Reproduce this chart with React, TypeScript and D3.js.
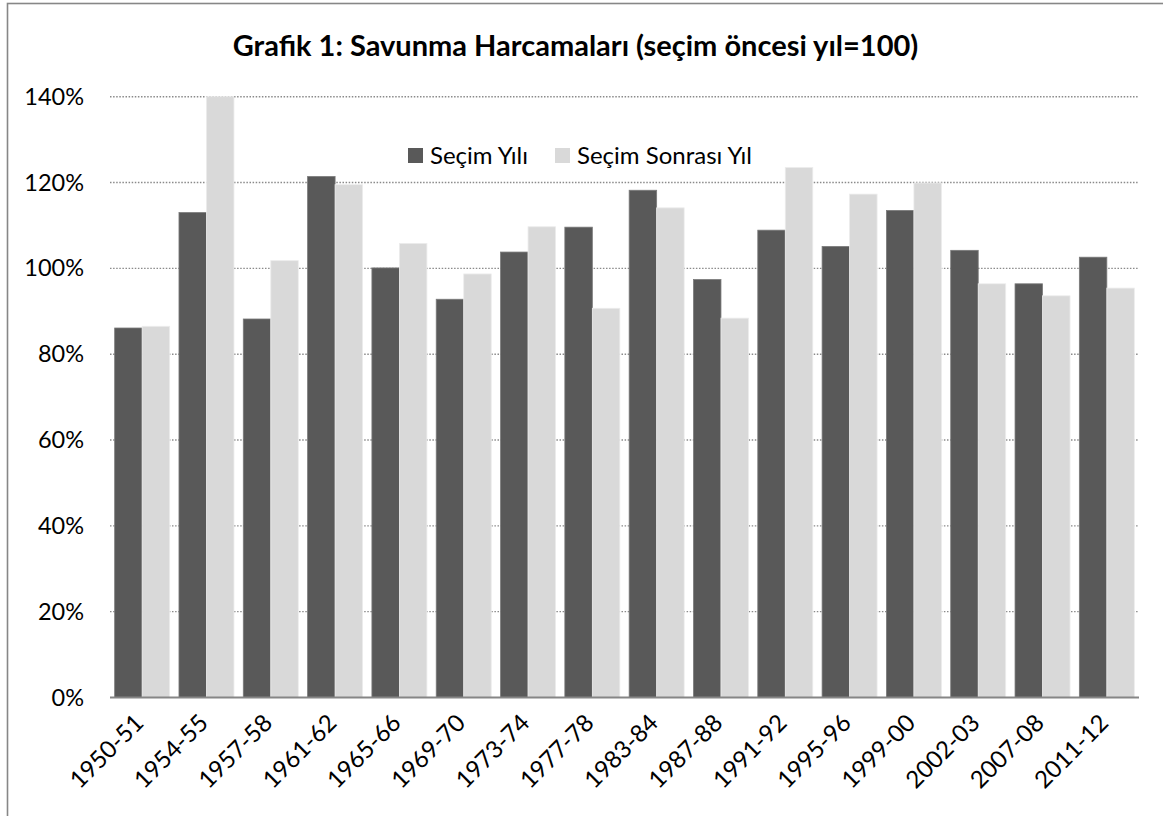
import React from "react";
import * as d3 from "d3";

const categories = ["1950-51","1954-55","1957-58","1961-62","1965-66","1969-70","1973-74","1977-78","1983-84","1987-88","1991-92","1995-96","1999-00","2002-03","2007-08","2011-12"];
const secimYili = [86.1,113.0,88.2,121.4,100.1,92.8,103.8,109.6,118.2,97.4,108.9,105.1,113.5,104.2,96.4,102.6];
const secimSonrasi = [86.5,140.0,101.8,119.5,105.8,98.7,109.7,90.7,114.1,88.4,123.5,117.3,119.9,96.4,93.6,95.4];
const yTicks = [0,20,40,60,80,100,120,140];
const seriesNames = ["Seçim Yılı","Seçim Sonrası Yıl"];
const title = "Grafik 1: Savunma Harcamaları (seçim öncesi yıl=100)";

const W = 1163, H = 816;
const FONT = "Lato, 'Open Sans', sans-serif";

export default function App() {
  const left = 110, right = 1139, top = 96.7, bottom = 697.5;
  const x = d3.scaleBand<string>().domain(categories).range([left, right]).paddingInner(0.145).paddingOuter(0.0725);
  const y = d3.scaleLinear().domain([0, 140]).range([bottom, top]);
  const bw = x.bandwidth() / 2;
  const dark = "#595959", light = "#d9d9d9";
  return (
    <svg width={W} height={H} style={{ position: "absolute", left: 0, top: 0, background: "#fff" }} fontFamily={FONT}>
      <rect x={0} y={0} width={W} height={H} fill="#fff" />
      <rect x={7.5} y={3.5} width={1300} height={1000} fill="none" stroke="#878787" strokeWidth={1.6} />
      <text x={575.5} y={56} textAnchor="middle" fontWeight="bold" fontSize={29} fill="#000">{title}</text>
      {yTicks.filter(t => t > 0).map(t => (
        <line key={t} x1={left} x2={right} y1={y(t)} y2={y(t)} stroke="#8a8a8a" strokeWidth={1.4} strokeDasharray="1.5,1.6" />
      ))}
      {yTicks.map(t => (
        <text key={t} x={84} y={y(t) + 8} textAnchor="end" fontSize={23.5} fill="#000">{t}%</text>
      ))}
      {categories.map((c, i) => (
        <g key={c}>
          <rect x={x(c)!} y={y(secimYili[i])} width={bw} height={bottom - y(secimYili[i])} fill={dark} stroke="#7a7a7a" strokeWidth={0.8} />
          <rect x={x(c)! + bw} y={y(secimSonrasi[i])} width={bw} height={bottom - y(secimSonrasi[i])} fill={light} stroke="#ececec" strokeWidth={0.8} />
        </g>
      ))}
      <line x1={left} x2={right} y1={bottom} y2={bottom} stroke="#868686" strokeWidth={1.8} />
      {categories.map(c => {
        const cx = x(c)! + x.bandwidth() / 2 + 3;
        const cy = bottom + 27;
        return (
          <text key={c} x={cx} y={cy} transform={`rotate(-45 ${cx} ${cy})`} textAnchor="end" fontSize={24} fill="#000">{c}</text>
        );
      })}
      <g>
        <rect x={408} y={148} width={15} height={15} fill={dark} />
        <text x={430} y={164} fontSize={24} fill="#000">{seriesNames[0]}</text>
        <rect x={555} y={148} width={15} height={15} fill={light} />
        <text x={577} y={164} fontSize={24} fill="#000">{seriesNames[1]}</text>
      </g>
    </svg>
  );
}
